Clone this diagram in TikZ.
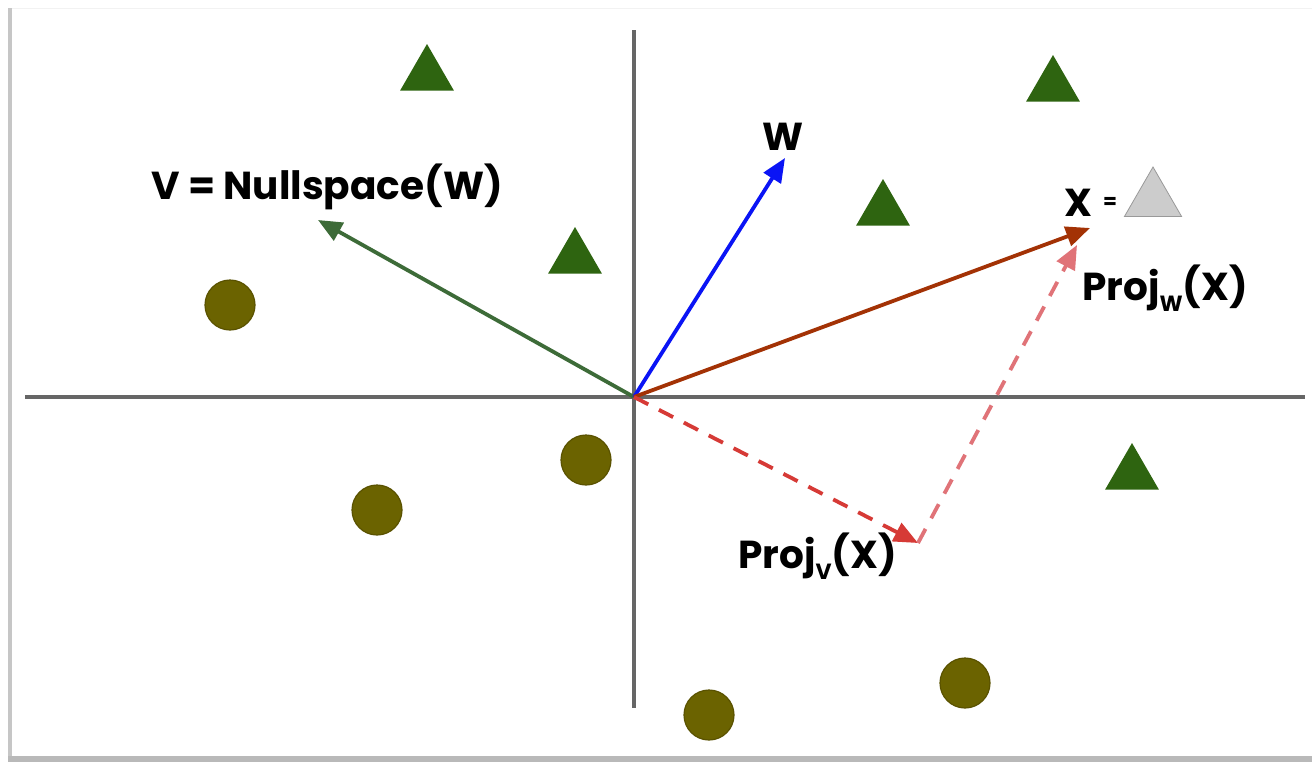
\documentclass[tikz,border=0pt]{standalone}
\usepackage{fontspec}
\setmainfont{Poppins}
\usetikzlibrary{arrows.meta,shapes.geometric}
\definecolor{axisgray}{HTML}{666666}
\definecolor{vgreen}{HTML}{3D6B38}
\definecolor{wblue}{HTML}{0A14F5}
\definecolor{xbrown}{HTML}{A33205}
\definecolor{pvred}{HTML}{D63A36}
\definecolor{pwred}{HTML}{E07378}
\definecolor{trigreen}{HTML}{2E6410}
\definecolor{olive}{HTML}{6B6300}
\definecolor{oliveedge}{HTML}{5A5200}
\definecolor{lgray}{HTML}{CCCCCC}
\newcommand{\lowsub}[1]{\raisebox{-0.55ex}{\fontsize{11}{12}\selectfont #1}}
\begin{document}
\begin{tikzpicture}[x=0.5pt,y=-0.5pt,
  axis/.style={draw=axisgray,line width=1.6pt},
  vec/.style={line width=1.9pt,-{Triangle[length=12pt,width=10pt]}},
  dvec/.style={vec,dash pattern=on 8pt off 6pt},
  tri/.style={regular polygon,regular polygon sides=3,fill=trigreen,inner sep=0pt,minimum size=31pt},
  dot/.style={circle,fill=olive,draw=oliveedge,line width=0.6pt,minimum size=25pt,inner sep=0pt},
  lbl/.style={font=\fontsize{19.5}{22}\selectfont\bfseries,text=black,inner sep=0pt}]
\useasboundingbox (0,0) rectangle (1312,766);
\fill[white] (0,0) rectangle (1312,766);
% card shadow
\fill[gray!45] (8,8) rectangle (12,760);
\fill[gray!55] (8,756) rectangle (1312,762);
\draw[gray!10] (12,8) -- (1312,8);
% axes
\coordinate (O) at (634,397);
\coordinate (ytop) at (634,30);
\coordinate (ybot) at (634,708);
\coordinate (xl) at (25,397);
\coordinate (xr) at (1305,397);
\draw[axis] (ytop) -- (ybot);
\draw[axis] (xl) -- (xr);
% triangles
\node[tri] (t1) at (427,75) {};
\node[tri] (t2) at (1053,86) {};
\node[tri] (t3) at (883,210) {};
\node[tri] (t4) at (575,258) {};
\node[tri] (t5) at (1132,474) {};
% circles
\node[dot] (c1) at (230,305) {};
\node[dot] (c2) at (586,460) {};
\node[dot] (c3) at (377,510) {};
\node[dot] (c4) at (709,715) {};
\node[dot] (c5) at (965,683) {};
% vector endpoints
\coordinate (V) at (318,220);
\coordinate (W) at (785,158);
\coordinate (X) at (1090,228);
\coordinate (PV) at (918,543);
\coordinate (PW) at (1077,245);
\draw[vec,vgreen] (O) -- (V);
\draw[vec,wblue] (O) -- (W);
\draw[vec,xbrown] (O) -- (X);
\draw[dvec,pvred] (O) -- (PV);
\draw[dvec,pwred] (PV) -- (PW);
% labels
\node[lbl] (lv) at (327,187) {V = Nullspace(W)};
\node[lbl] (lw) at (783,137) {W};
\node[lbl] (lx) at (1078,203) {X};
\node[lbl,font=\fontsize{10}{12}\selectfont\bfseries] (leq) at (1110,203) {=};
\node[tri,fill=lgray,draw=gray!80,line width=0.4pt,minimum size=33pt] (tx) at (1153,200) {};
\node[lbl,anchor=base west] (lpw) at (1082,300) {Proj\lowsub{W}(X)};
\node[lbl,anchor=base west] (lpv) at (738,568) {Proj\lowsub{V}(X)};
\end{tikzpicture}
\end{document}
